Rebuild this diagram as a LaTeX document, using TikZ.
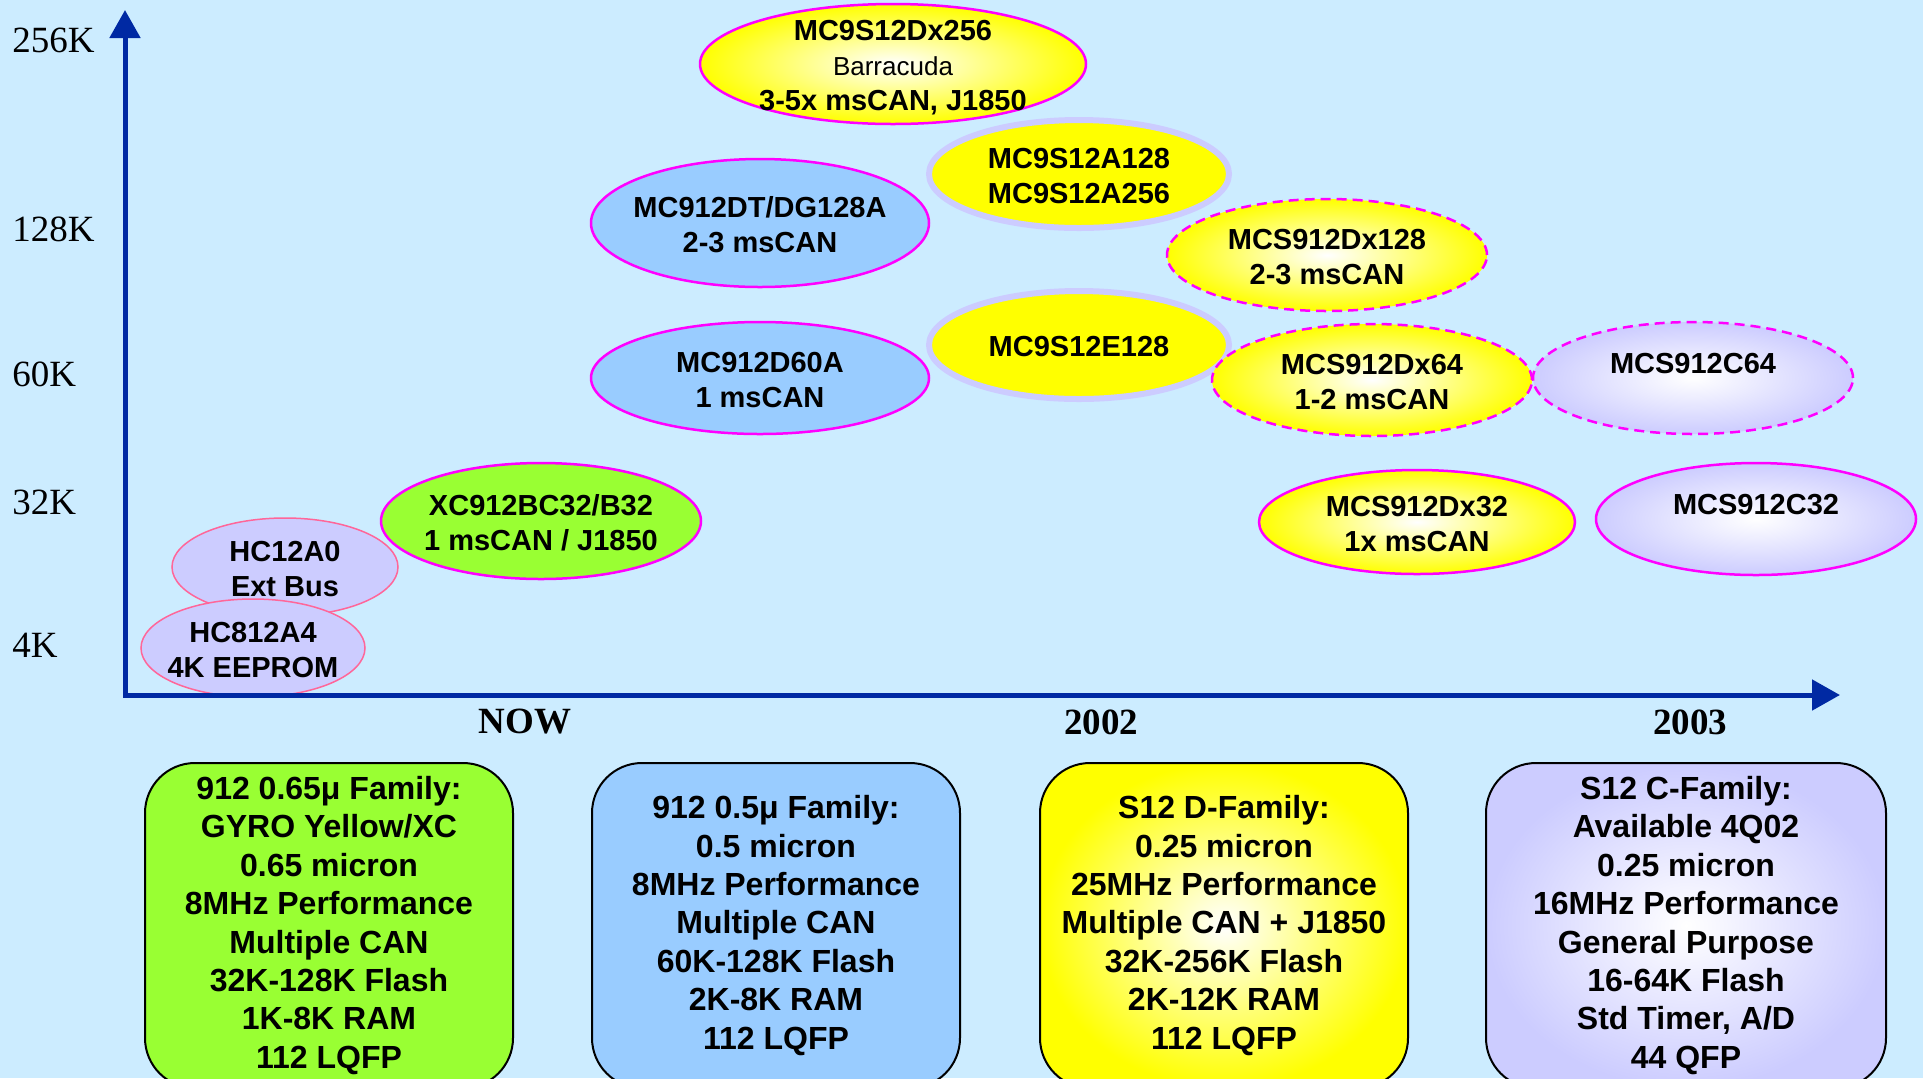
\documentclass[tikz,border=0pt]{standalone}
\usepackage{fontspec}
\setmainfont{Liberation Sans}
\newfontfamily\axisfont{Liberation Serif}
\usetikzlibrary{shapes,arrows.meta,positioning}
\definecolor{bgblue}{RGB}{204,236,255}
\definecolor{axisblue}{RGB}{0,41,163}
\definecolor{chipmagenta}{RGB}{255,0,255}
\definecolor{chippink}{RGB}{255,102,153}
\definecolor{chipyellow}{RGB}{255,255,0}
\definecolor{chipblue}{RGB}{153,204,255}
\definecolor{chipgreen}{RGB}{153,255,51}
\definecolor{lavender}{RGB}{204,204,255}
\tikzstyle{axis} = [line width=2.5pt, draw=axisblue, <->]
\tikzstyle{chip} = [ellipse, inner sep=0pt, line width=1.25pt, draw=chipmagenta]
\tikzstyle{chiptext} = [font=\bfseries\fontsize{14.5}{17.5}\selectfont, align=center, inner sep=0pt, yshift=-1pt]
\tikzstyle{glowyellow} = [inner color=white, outer color=chipyellow]
\tikzstyle{glowlavender} = [inner color=white, outer color=lavender]
\tikzstyle{future} = [dashed, dash pattern=on 5pt off 3pt]
\tikzstyle{family} = [draw=black, line width=1pt, rounded corners=25pt, minimum width=184pt,
  minimum height=162.5pt, inner sep=2pt, align=center, font=\bfseries\fontsize{16}{19.2}\selectfont]
\tikzstyle{sizelabel} = [anchor=west, inner sep=0pt, font=\axisfont\fontsize{18.5}{20}\selectfont]
\tikzstyle{yearlabel} = [inner sep=0pt, font=\axisfont\bfseries\fontsize{18.5}{20}\selectfont]

\begin{document}
\begin{tikzpicture}[x=0.5pt, y=-0.5pt, >={Triangle[length=14pt,width=15pt]}]
\fill[bgblue] (0,0) rectangle (1923,1078);
\useasboundingbox (0,0) rectangle (1923,1078);

% memory size scale
\node[sizelabel] (k256) at (12,40) {256K};
\node[sizelabel] (k128) at (12,229) {128K};
\node[sizelabel] (k60) at (12,374) {60K};
\node[sizelabel] (k32) at (12,502) {32K};
\node[sizelabel] (k4) at (12,645) {4K};

% time scale
\node[yearlabel] (now) at (525,722) {NOW};
\node[yearlabel] (y2002) at (1101,722) {2002};
\node[yearlabel] (y2003) at (1690,722) {2003};

% devices
\node[chip, glowyellow, minimum width=193pt, minimum height=60pt,
  label={[chiptext, yshift=-1pt]center:{MC9S12Dx256\\{\mdseries\fontsize{13}{17}\selectfont Barracuda}\\3-5x msCAN, J1850}}] (dx256) at (893,64) {};
\node[chip, draw=lavender, line width=3pt, fill=chipyellow, minimum width=150pt, minimum height=54pt,
  label={[chiptext]center:{MC9S12A128\\MC9S12A256}}] (a128) at (1079,174) {};
\node[chip, fill=chipblue, minimum width=169pt, minimum height=64pt,
  label={[chiptext]center:{MC912DT/DG128A\\2-3 msCAN}}] (dg128) at (760,223) {};
\node[chip, future, glowyellow, minimum width=160pt, minimum height=56pt,
  label={[chiptext]center:{MCS912Dx128\\2-3 msCAN}}] (dx128) at (1327,255) {};
\node[chip, draw=lavender, line width=3pt, fill=chipyellow, minimum width=150pt, minimum height=54pt,
  label={[chiptext]center:MC9S12E128}] (e128) at (1079,345) {};
\node[chip, fill=chipblue, minimum width=169pt, minimum height=56pt,
  label={[chiptext]center:{MC912D60A\\1 msCAN}}] (d60) at (760,378) {};
\node[chip, future, glowyellow, minimum width=160pt, minimum height=56pt,
  label={[chiptext]center:{MCS912Dx64\\1-2 msCAN}}] (dx64) at (1372,380) {};
\node[chip, future, glowlavender, minimum width=160pt, minimum height=56pt,
  label={[chiptext, yshift=8pt]center:MCS912C64}] (c64) at (1693,378) {};
\node[chip, fill=chipgreen, minimum width=160pt, minimum height=58pt,
  label={[chiptext]center:{XC912BC32/B32\\1 msCAN / J1850}}] (bc32) at (541,521) {};
\node[chip, glowyellow, minimum width=158pt, minimum height=52pt,
  label={[chiptext]center:{MCS912Dx32\\1x msCAN}}] (dx32) at (1417,522) {};
\node[chip, glowlavender, minimum width=160pt, minimum height=56pt,
  label={[chiptext, yshift=8pt]center:MCS912C32}] (c32) at (1756,519) {};
\node[chip, draw=chippink, line width=0.75pt, fill=lavender, minimum width=113pt, minimum height=49pt,
  label={[chiptext]center:{HC12A0\\Ext Bus}}] (a0) at (285,567) {};
\node[chip, draw=chippink, line width=0.75pt, fill=lavender, minimum width=112pt, minimum height=49pt,
  label={[chiptext]center:{HC812A4\\4K EEPROM}}] (a4) at (253,648) {};

% axes
\coordinate (origin) at (125,695);
\coordinate (ytip) at (125,10);
\coordinate (xtip) at (1840,695);
\draw[axis] (ytip) -- (origin) -- (xtip);

% family boxes
\node[family, fill=chipgreen] (fam65) at (329,925.5)
  {912 0.65μ Family:\\GYRO Yellow/XC\\0.65 micron\\8MHz Performance\\Multiple CAN\\32K-128K Flash\\1K-8K RAM\\112 LQFP};
\node[family, fill=chipblue] (fam5) at (776,925.5)
  {912 0.5μ Family:\\0.5 micron\\8MHz Performance\\Multiple CAN\\60K-128K Flash\\2K-8K RAM\\112 LQFP};
\node[family, glowyellow] (famd) at (1224,925.5)
  {S12 D-Family:\\0.25 micron\\25MHz Performance\\Multiple CAN + J1850\\32K-256K Flash\\2K-12K RAM\\112 LQFP};
\node[family, glowlavender, minimum width=200pt] (famc) at (1686,925.5)
  {S12 C-Family:\\Available 4Q02\\0.25 micron\\16MHz Performance\\General Purpose\\16-64K Flash\\Std Timer, A/D\\44 QFP};
\end{tikzpicture}
\end{document}
